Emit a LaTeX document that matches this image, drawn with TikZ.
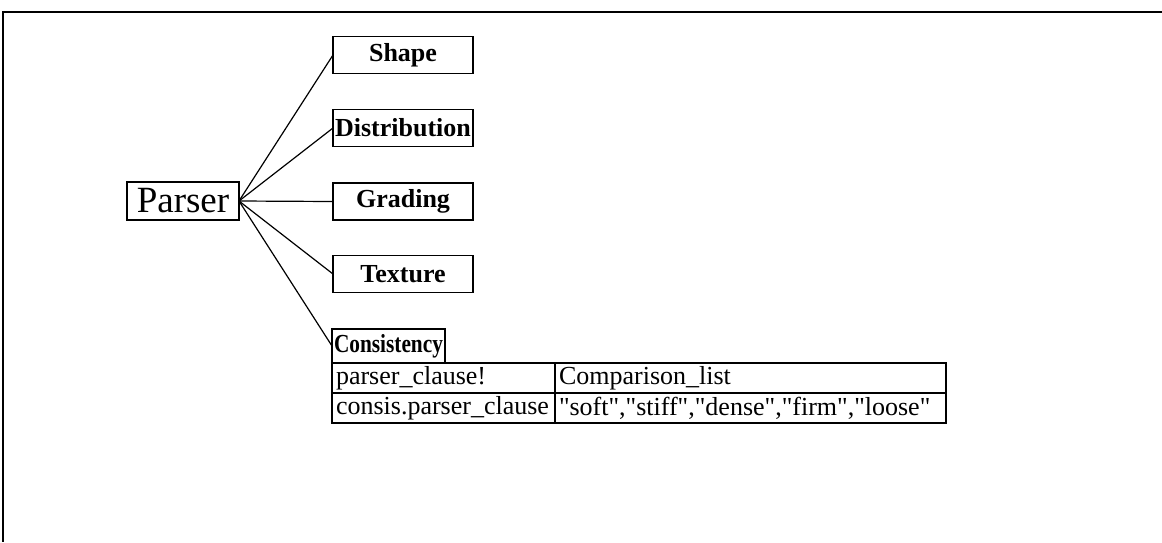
\documentclass[tikz,border=0pt]{standalone}
\usepackage{fontspec}
\setmainfont{Liberation Serif}[Ligatures=TeXOff]
\usetikzlibrary{positioning}

\begin{document}
\begin{tikzpicture}[x=0.5pt, y=-0.5pt, line width=0.6pt,
  every node/.style={font=\fontsize{13}{15}\selectfont, outer sep=0pt},
  lbl/.style={draw, font=\fontsize{13}{15}\selectfont\bfseries, minimum width=70pt, minimum height=18.5pt, inner sep=1pt},
  cell/.style={draw, font=\fontsize{13}{15}\selectfont, minimum height=15pt, inner xsep=2pt, inner ysep=0.5pt, align=left}]
  \useasboundingbox (0,0) rectangle (1162,542);
  % frame
  \draw[line width=0.9pt] (1162,12) -- (3,12) -- (3,542);
  % root and its parts
  \node[draw, font=\fontsize{18.5}{20}\selectfont, minimum width=56pt, minimum height=19pt, inner sep=0.5pt] (parser) at (183,201) {Parser};
  \node[lbl] (shape) at (403,55) {Shape};
  \node[lbl] (distr) at (403,128) {Distribution};
  \node[lbl] (grading) at (403,201.5) {Grading};
  \node[lbl] (texture) at (403,274) {Texture};
  \node[draw, anchor=south west, font=\fontsize{13}{15}\selectfont\bfseries, minimum height=17pt, inner sep=1pt] (consis) at (332,363) {\scalebox{0.82}[1]{Consistency}};
  \foreach \n in {shape,distr,grading,texture,consis}
    \draw (parser.east) -- (\n.west);
  % clause table
  \node[cell, anchor=north west, text width=107.5pt] (c11) at (332,363) {parser\_clause!};
  \node[cell, right=0pt of c11, text width=191.5pt] (c12) {Comparison\_list};
  \node[cell, below=0pt of c11, text width=107.5pt] (c21) {consis.parser\_clause};
  \node[cell, below=0pt of c12, text width=191.5pt] (c22) {"soft","stiff","dense","firm","loose"};
\end{tikzpicture}
\end{document}
